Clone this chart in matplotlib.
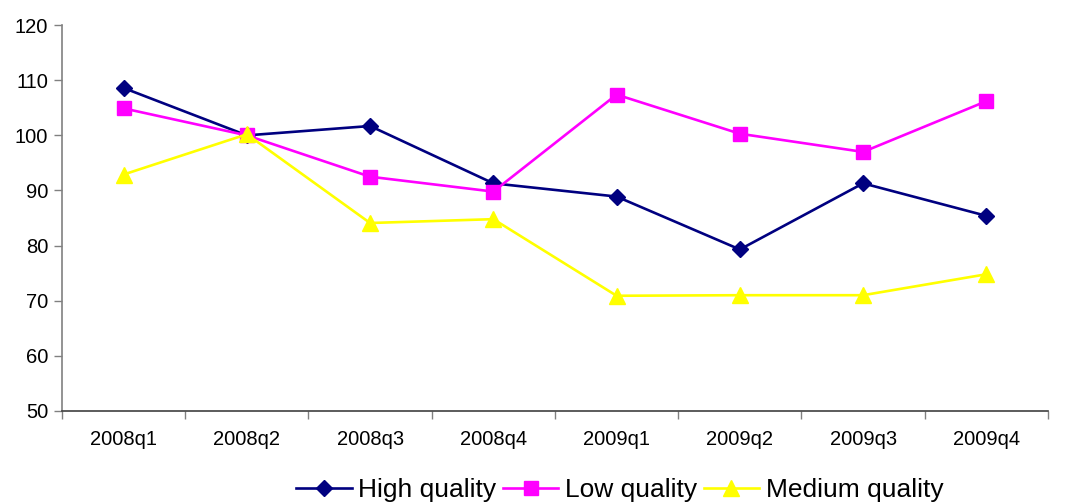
import matplotlib
matplotlib.use("Agg")
import matplotlib.pyplot as plt
import numpy as np

# ——— data ———
quarters = ["2008q1", "2008q2", "2008q3", "2008q4",
            "2009q1", "2009q2", "2009q3", "2009q4"]
high_q = [108.6, 100.0, 101.7, 91.3, 88.9, 79.3, 91.3, 85.4]
low_q = [104.9, 100.0, 92.5, 89.8, 107.4, 100.3, 97.0, 106.2]
medium_q = [92.9, 100.2, 84.1, 84.8, 70.9, 71.0, 71.0, 74.8]

plt.rcParams['font.family'] = ['Liberation Sans', 'DejaVu Sans']

fig = plt.figure(figsize=(10.65, 5.03), dpi=100)
ax = fig.add_axes([0.0582, 0.183, 0.984 - 0.0582, 0.950 - 0.183])

x = np.arange(len(quarters))
ax.plot(x, high_q, color='#000080', marker='D', markersize=8, linewidth=1.9,
        label='High quality', clip_on=False)
ax.plot(x, low_q, color='#FF00FF', marker='s', markersize=10, linewidth=1.9,
        label='Low quality', clip_on=False)
ax.plot(x, medium_q, color='#FFFF00', marker='^', markersize=11, linewidth=1.9,
        label='Medium quality', clip_on=False)

ax.set_xlim(-0.5, len(quarters) - 0.5)
ax.set_ylim(50, 120)
ax.set_yticks(np.arange(50, 121, 10))

# category labels centred, tick marks between categories
ax.set_xticks(np.arange(-0.5, len(quarters), 1.0))
ax.set_xticklabels([])
ax.set_xticks(x, minor=True)
ax.set_xticklabels(quarters, minor=True)
ax.tick_params(axis='x', which='minor', length=0, pad=14, labelsize=14.5)
ax.tick_params(axis='x', which='major', length=6, width=1, color='#808080', direction='out')
ax.tick_params(axis='y', length=6, width=1, color='#808080', labelsize=14.5, pad=4)

for s in ['top', 'right']:
    ax.spines[s].set_visible(False)
for s in ['left', 'bottom']:
    ax.spines[s].set_color('#808080')
    ax.spines[s].set_linewidth(1.2)
ax.spines['bottom'].set_color('#404040')

fig.legend(loc='center', bbox_to_anchor=(0.582, 0.025), ncol=3, frameon=False,
           fontsize=19, handlelength=2.1, handletextpad=0.25, columnspacing=0.25,
           borderaxespad=0)

fig.savefig("out.png", dpi=100)
